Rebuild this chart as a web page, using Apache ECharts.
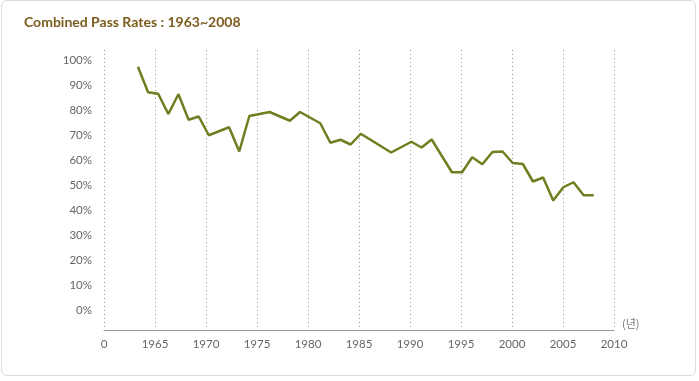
<!DOCTYPE html>
<html>
<head>
<meta charset="utf-8">
<script src="https://cdn.jsdelivr.net/npm/echarts@6/dist/echarts.min.js"></script>
<style>
html,body{margin:0;padding:0;background:#fff;}
#wrap{position:relative;width:699px;height:381px;}
#card{position:absolute;left:1px;top:0px;width:695px;height:376px;border:1px solid #dcdcdc;border-radius:6px;box-sizing:border-box;background:#fff;}
#chart{position:absolute;left:0;top:0;width:699px;height:381px;}
</style>
</head>
<body>
<div id="wrap"><div id="card"></div><div id="chart"></div></div>
<script>
const titleText = 'Combined Pass Rates : 1963~2008';
const years = [1963,1964,1965,1966,1967,1968,1969,1970,1972,1973,1974,1976,1978,1979,1981,1982,1983,1984,1985,1988,1990,1991,1992,1994,1995,1996,1997,1998,1999,2000,2001,2002,2003,2004,2005,2006,2007,2008];
const passRates = [97.3,87.1,86.5,78.4,86.3,76.1,77.4,69.9,73.1,63.4,77.6,79.2,75.7,79.2,74.7,66.9,68.1,66.2,70.5,63.0,67.3,65.0,68.2,55.1,55.1,61.1,58.3,63.2,63.4,58.8,58.4,51.4,53.0,43.8,49.1,51.1,45.9,45.9];
const yTicks = [0,10,20,30,40,50,60,70,80,90,100];
const xUnit = '(년)';

const chart = echarts.init(document.getElementById('chart'));
chart.setOption({
  animation: false,
  title: {
    text: titleText, left: 19, top: 10,
    textStyle: {color: '#7b5c1c', fontSize: 14, fontWeight: 'bold', fontFamily: 'Lato'}
  },
  grid: {left: 104, right: 85, top: 50, bottom: 51, containLabel: false},
  xAxis: [{
    type: 'value', min: 1960, max: 2010, interval: 5,
    axisLine: {show: true, onZero: false, lineStyle: {color: '#999', width: 1}},
    axisTick: {show: false},
    splitLine: {show: true, lineStyle: {color: '#999', type: [1, 3], width: 1}},
    axisLabel: {color: '#666', fontSize: 11.5, fontFamily: 'Lato', margin: 8,
      formatter: v => v === 1960 ? '0' : String(v)},
    name: xUnit, nameLocation: 'end', nameGap: 8,
    nameTextStyle: {color: '#777', fontSize: 11, fontFamily: 'Noto Sans CJK KR', verticalAlign: 'bottom', padding: [0,0,1,0]}
  }, {
    type: 'value', min: 1959.65, max: 2010, show: false,
    axisLine: {onZero: false}
  }],
  yAxis: {
    type: 'value', min: -8, max: 104,
    axisLine: {show: false}, axisTick: {show: false}, splitLine: {show: false},
    axisLabel: {color: '#666', fontSize: 11.5, fontFamily: 'Lato', margin: 12,
      customValues: yTicks, formatter: v => v + '%'}
  },
  series: [{
    type: 'line', xAxisIndex: 1,
    data: years.map((y, i) => [y, passRates[i]]),
    symbol: 'none',
    lineStyle: {color: '#6f7e20', width: 2.5},
    silent: true
  }]
});
</script>
</body>
</html>
